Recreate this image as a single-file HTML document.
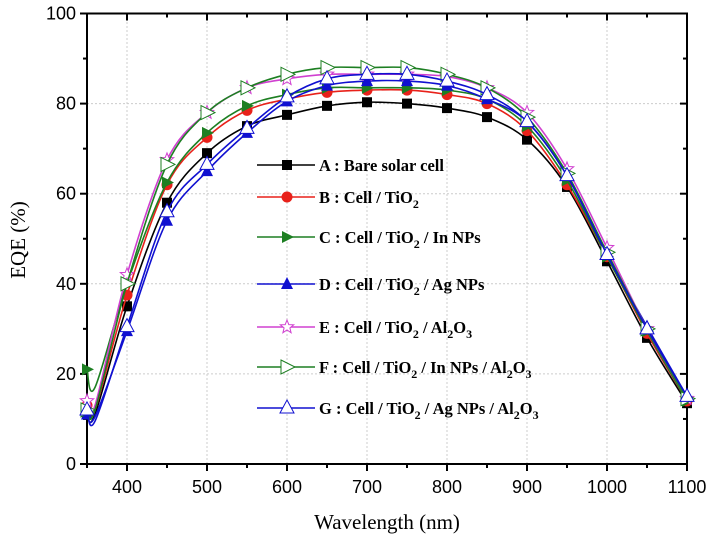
<!DOCTYPE html>
<html><head><meta charset="utf-8"><style>
body{margin:0;background:#fff}
svg text{font-family:"Liberation Serif",serif}
</style></head><body>
<svg width="710" height="540" viewBox="0 0 710 540">
<g id="grid"></g>
<g id="axes"></g>
<g id="series"></g>
<g id="legend"></g>
<text x="387" y="529" font-size="21" text-anchor="middle">Wavelength (nm)</text>
<text transform="translate(25,240) rotate(-90)" font-size="21" text-anchor="middle">EQE (%)</text>
</svg>
<script>
const wavelengths=[350,360,400,450,500,550,600,650,700,750,800,850,900,950,1000,1050,1100];
const seriesA=[11,11,35,58,69,75,77.5,79.5,80.3,80,79,77,72,61.5,45,28,13.5];
const seriesB=[13,12,37.5,62,72.5,78.5,81,82.5,83,83,82,80,74,62,46,29,14];
const seriesC=[21,17,40,62.5,73.5,79.5,82,83.5,83.5,83.5,83,81,75,63,46,29.5,14];
const seriesD=[11,10.5,29.5,54,65,73.5,80.5,84,85,85,84,81,76,64,46.5,30.5,15];
const seriesE=[14,13,42,67.5,78,83.5,85.5,86.5,86.5,86.5,86,83.5,78,65.5,48,30,14.5];
const seriesF=[12,12,40,66.5,78,83.5,86.5,88,88,88,86.5,83.5,77,64.5,47,30,14.5];
const seriesG=[12,9.5,30.5,56,66.5,74.5,81.5,85.5,86.5,86.5,85,82,76,64,46.5,30,15];
const xTicks=[400,500,600,700,800,900,1000,1100];
const yTicks=[0,20,40,60,80,100];
const NS="http://www.w3.org/2000/svg";
const X0=87,X1=687,Y0=464,Y1=13.5;
const xs=v=>X0+(v-350)/750*(X1-X0);
const ys=v=>Y0-v/100*(Y0-Y1);
function mk(t,a,p){const e=document.createElementNS(NS,t);for(const k in a)e.setAttribute(k,a[k]);(p||document.querySelector('svg')).appendChild(e);return e;}
function smooth(P){let d='M'+P[0][0].toFixed(1)+','+P[0][1].toFixed(1);
 for(let i=0;i<P.length-1;i++){const p0=P[i-1]||P[i],p1=P[i],p2=P[i+1],p3=P[i+2]||p2;
  const c1=[p1[0]+(p2[0]-p0[0])/6,p1[1]+(p2[1]-p0[1])/6],c2=[p2[0]-(p3[0]-p1[0])/6,p2[1]-(p3[1]-p1[1])/6];
  d+=` C${c1[0].toFixed(1)},${c1[1].toFixed(1)} ${c2[0].toFixed(1)},${c2[1].toFixed(1)} ${p2[0].toFixed(1)},${p2[1].toFixed(1)}`;}
 return d;}
const grid=document.getElementById('grid'),axes=document.getElementById('axes'),ser=document.getElementById('series'),leg=document.getElementById('legend');
xTicks.forEach(v=>{if(v<1100){const l=mk('line',{x1:xs(v),x2:xs(v),y1:Y0,y2:Y1,stroke:'#ccc','stroke-dasharray':'2,2','stroke-width':1},grid);}});
yTicks.forEach(v=>{if(v>0&&v<100){const l=mk('line',{x1:X0,x2:X1,y1:ys(v),y2:ys(v),stroke:'#ccc','stroke-dasharray':'2,2','stroke-width':1},grid);}});
const fr=mk('rect',{x:X0,y:Y1,width:X1-X0,height:Y0-Y1,fill:'none',stroke:'#000','stroke-width':2},axes);

for(let v=350;v<=1100;v+=50){const maj=v%100==0;
mk('line',{x1:xs(v),x2:xs(v),y1:Y0,y2:Y0+(maj?7:4),stroke:'#000','stroke-width':2},axes);
mk('line',{x1:xs(v),x2:xs(v),y1:Y1,y2:Y1+(maj?7:4),stroke:'#000','stroke-width':2},axes);}
for(let v=0;v<=100;v+=10){const maj=v%20==0;
mk('line',{x1:X0,x2:X0-(maj?7:4),y1:ys(v),y2:ys(v),stroke:'#000','stroke-width':2},axes);
mk('line',{x1:X1,x2:X1-(maj?7:4),y1:ys(v),y2:ys(v),stroke:'#000','stroke-width':2},axes);}
xTicks.forEach(v=>{const t=mk('text',{x:xs(v),y:Y0+29,'font-size':18,'text-anchor':'middle'},axes);t.textContent=v;t.style.fontFamily='Liberation Sans';
});
yTicks.forEach(v=>{const t=mk('text',{x:X0-11,y:ys(v)+6,'font-size':18,'text-anchor':'end'},axes);t.textContent=v;t.style.fontFamily='Liberation Sans';
});
function marker(g,type,x,y,col){
 if(type=='square')return mk('rect',{x:x-5,y:y-5,width:10,height:10,fill:col},g);
 if(type=='circle')return mk('circle',{cx:x,cy:y,r:5.5,fill:col},g);
 if(type=='right')return mk('polygon',{points:`${x-5},${y-6} ${x+7},${y} ${x-5},${y+6}`,fill:col},g);
 if(type=='rightO')return mk('polygon',{points:`${x-6},${y-7} ${x+8},${y} ${x-6},${y+7}`,fill:'#fff',stroke:col,'stroke-width':1},g);
 if(type=='up')return mk('polygon',{points:`${x},${y-7} ${x+6},${y+5} ${x-6},${y+5}`,fill:col},g);
 if(type=='upO')return mk('polygon',{points:`${x},${y-8} ${x+7},${y+5} ${x-7},${y+5}`,fill:'#fff',stroke:col,'stroke-width':1},g);
 if(type=='star'){let p=[];for(let i=0;i<10;i++){const r=i%2?3:7,a=-Math.PI/2+i*Math.PI/5;p.push((x+r*Math.cos(a)).toFixed(1)+','+(y+r*Math.sin(a)).toFixed(1));}
  return mk('polygon',{points:p.join(' '),fill:'#fff',stroke:col,'stroke-width':1},g);}
}
const S='<tspan font-size="12" dy="5">',E='</tspan><tspan dy="-5">';
const defs=[
 {d:seriesA,c:'#000',m:'square',n:'series-a',lab:'A : Bare solar cell',ly:165},
 {d:seriesB,c:'#e8211a',m:'circle',n:'series-b',lab:'B : Cell / TiO'+S+'2</tspan>',ly:197},
 {d:seriesC,c:'#1d7f22',m:'right',n:'series-c',lab:'C : Cell / TiO'+S+'2'+E+' / In NPs</tspan>',ly:237},
 {d:seriesD,c:'#1010d0',m:'up',n:'series-d',lab:'D : Cell / TiO'+S+'2'+E+' / Ag NPs</tspan>',ly:284},
 {d:seriesE,c:'#d040d0',m:'star',n:'series-e',lab:'E : Cell / TiO'+S+'2'+E+' / Al</tspan>'+S+'2'+E+'O</tspan>'+S+'3</tspan>',ly:327},
 {d:seriesF,c:'#1d7f22',m:'rightO',n:'series-f',lab:'F : Cell / TiO'+S+'2'+E+' / In NPs / Al</tspan>'+S+'2'+E+'O</tspan>'+S+'3</tspan>',ly:367},
 {d:seriesG,c:'#1010d0',m:'upO',n:'series-g',lab:'G : Cell / TiO'+S+'2'+E+' / Ag NPs / Al</tspan>'+S+'2'+E+'O</tspan>'+S+'3</tspan>',ly:408}
];
defs.forEach(s=>{
 const g=mk('g',{},ser);
 
 
 const P=wavelengths.map((w,i)=>[xs(w),ys(s.d[i])]);
 const pl=mk('path',{d:smooth(P),fill:'none',stroke:s.c,'stroke-width':1.6},g);
 
 
 wavelengths.forEach((w,i)=>{if(w%50==0){const m=marker(g,s.m,xs(w),ys(s.d[i]),s.c);
  
  }});
 const lg=mk('g',{},leg);
 
 
 mk('line',{x1:257,x2:315,y1:s.ly,y2:s.ly,stroke:s.c,'stroke-width':1.6},lg);
 marker(lg,s.m,287,s.ly,s.c);
 const t=mk('text',{x:319,y:s.ly+6,'font-size':16.5,'font-weight':'bold'},lg);
 t.innerHTML=s.lab;
});
</script>
</body></html>
